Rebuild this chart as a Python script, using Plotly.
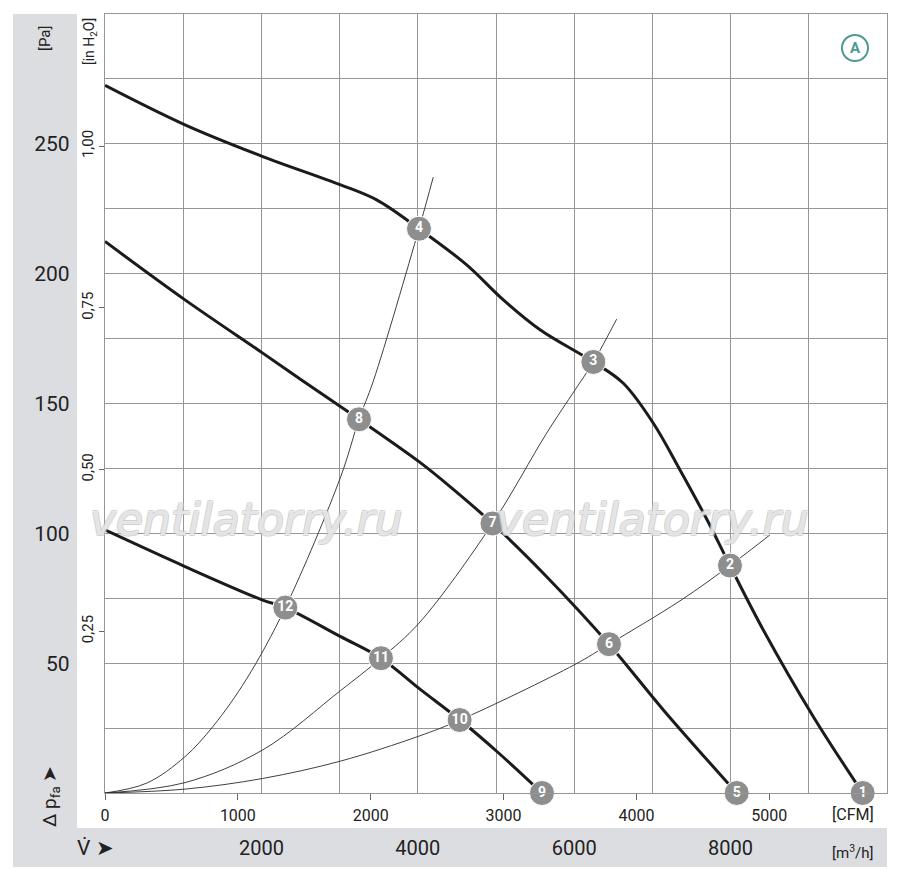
import plotly.graph_objects as go

# ---------------- data (flow in m3/h, pressure in Pa) ----------------
curve1_x = [0, 1023, 2017, 3014, 3474, 4015, 4625, 5094, 5563, 6245, 6628, 7012, 7353, 7694, 7992, 8418, 9058, 9689]
curve1_y = [272.5, 257.3, 245.1, 234.2, 228.4, 217.3, 203.4, 189.9, 178.4, 166.0, 157.8, 142.4, 124.4, 105.5, 87.6, 62.8, 29.4, 0]

curve2_x = [0, 1023, 2017, 2536, 3248, 4015, 4412, 4955, 5648, 6445, 7140, 8078]
curve2_y = [212.4, 189.9, 169.4, 158.6, 143.9, 127.6, 118.0, 103.8, 83.3, 57.3, 32.0, 0]

curve3_x = [0, 1023, 2017, 2306, 3014, 3529, 4015, 4540, 5030, 5588]
curve3_y = [101.3, 87.2, 74.3, 71.4, 60.2, 51.9, 40.3, 28.1, 15.5, 0]

sys1_x = [0, 533, 1023, 1385, 1812, 2306, 3014, 3248, 3431, 4015, 4198]
sys1_y = [0, 3.8, 14.0, 25.8, 44.0, 71.4, 121.8, 143.9, 158.6, 217.3, 237.2]

sys2_x = [0, 1023, 2017, 3014, 3529, 4015, 4955, 5648, 6010, 6245, 6543]
sys2_y = [0, 4.0, 16.6, 39.5, 51.9, 65.4, 103.8, 138.6, 155.2, 166.0, 182.5]

sys3_x = [0, 1023, 2017, 3014, 4015, 4540, 6010, 6445, 7353, 7992, 8504]
sys3_y = [0, 1.5, 5.6, 12.3, 21.9, 28.1, 49.5, 57.3, 74.0, 87.6, 99.4]

point_labels = ["1", "2", "3", "4", "5", "6", "7", "8", "9", "10", "11", "12"]
point_x = [9689, 7992, 6245, 4015, 8078, 6445, 4955, 3248, 5588, 4535, 3529, 2306]
point_y = [0, 87.6, 166.0, 217.3, 0, 57.3, 103.8, 143.9, 0, 28.1, 51.9, 71.4]

m3h_ticks = [0, 1000, 2000, 3000, 4000, 5000, 6000, 7000, 8000, 9000, 10000]
m3h_labels = ["", "", "2000", "", "4000", "", "6000", "", "8000", "", ""]
cfm_ticks = [0, 1000, 2000, 3000, 4000, 5000]
cfm_labels = ["0", "1000", "2000", "3000", "4000", "5000"]
pa_ticks = [0, 25, 50, 75, 100, 125, 150, 175, 200, 225, 250, 275, 300]
pa_labels = ["", "", "50", "", "100", "", "150", "", "200", "", "250", "", ""]
inh2o_ticks = [0.25, 0.50, 0.75, 1.00]
inh2o_labels = ["0,25", "0,50", "0,75", "1,00"]

M3H_PER_CFM = 1.699
PA_PER_INH2O = 249.089
X_MAX = 10000
Y_MAX = 300

FONT = "Roboto, Liberation Sans, Arial, sans-serif"
GRID = "#969696"
STRIP = "#dcdde0"
INK = "#222222"

fig = go.Figure()

for xs, ys in [(sys1_x, sys1_y), (sys2_x, sys2_y), (sys3_x, sys3_y)]:
    fig.add_trace(go.Scatter(x=xs, y=ys, mode="lines",
                             line=dict(color="#2a2a2a", width=0.9, shape="spline"),
                             hoverinfo="skip", showlegend=False))

for xs, ys in [(curve1_x, curve1_y), (curve2_x, curve2_y), (curve3_x, curve3_y)]:
    fig.add_trace(go.Scatter(x=xs, y=ys, mode="lines",
                             line=dict(color="#1b1b1b", width=3, shape="spline"),
                             hoverinfo="skip", showlegend=False))

fig.add_trace(go.Scatter(x=point_x, y=point_y, mode="markers+text", text=point_labels,
                         textposition="middle center",
                         textfont=dict(family=FONT, size=14, color="white", weight="bold"),
                         marker=dict(size=25, color="#8e8e8e", line=dict(color="white", width=1)),
                         cliponaxis=False, hoverinfo="skip", showlegend=False))

# invisible traces so that the secondary axes exist
fig.add_trace(go.Scatter(x=[0], y=[0], xaxis="x2", yaxis="y", mode="markers",
                         marker=dict(opacity=0), hoverinfo="skip", showlegend=False))
fig.add_trace(go.Scatter(x=[0], y=[0], xaxis="x", yaxis="y2", mode="markers",
                         marker=dict(opacity=0), hoverinfo="skip", showlegend=False))

# page pixel -> paper coordinates (plot area spans page x 105..887, y 14..793)
def px_to_paper_x(px):
    return (px - 105) / 782.0

def px_to_paper_y(py):
    return (793 - py) / 779.0

shapes = [
    dict(type="rect", xref="paper", yref="paper", layer="below",
         x0=px_to_paper_x(13), x1=px_to_paper_x(77), y0=px_to_paper_y(867), y1=px_to_paper_y(14),
         fillcolor=STRIP, line=dict(width=0)),
    dict(type="rect", xref="paper", yref="paper", layer="below",
         x0=px_to_paper_x(13), x1=px_to_paper_x(887), y0=px_to_paper_y(867), y1=px_to_paper_y(828),
         fillcolor=STRIP, line=dict(width=0)),
    dict(type="circle", xref="paper", yref="paper",
         x0=px_to_paper_x(842), x1=px_to_paper_x(868), y0=px_to_paper_y(61), y1=px_to_paper_y(35),
         line=dict(color="#4c9a92", width=2)),
]

def label(text, px, py, size, angle=0, color=INK, **font_extra):
    return dict(text=text, xref="paper", yref="paper", x=px_to_paper_x(px), y=px_to_paper_y(py),
                xanchor="center", yanchor="middle", textangle=angle, showarrow=False,
                font=dict(family=FONT, size=size, color=color, **font_extra))

outline = "1px 1px 0 #c4c4c4, -1px -1px 0 #c4c4c4, 1px -1px 0 #c4c4c4, -1px 1px 0 #c4c4c4"
wm_font = dict(family="DejaVu Sans", size=44, color="rgba(255,255,255,0.55)", style="italic", shadow=outline)

annotations = [
    label("A", 855, 48, 15, color="#4c9a92", weight="bold"),
    label("[Pa]", 45, 38, 15, angle=-90),
    label("[in H<sub>2</sub>O]", 90, 42, 14, angle=-90),
    label("Δ p<sub>fa</sub> ➤", 50, 797, 19, angle=-90),
    label("V ➤", 95, 848, 21),
    label("˙", 84, 845, 21),
    label("[CFM]", 853, 815, 16),
    label("[m<sup>3</sup>/h]", 852, 852, 15),
    dict(text="ventilatorry.ru", xref="paper", yref="paper", x=px_to_paper_x(246), y=px_to_paper_y(519),
         xanchor="center", yanchor="middle", showarrow=False, font=wm_font),
    dict(text="ventilatorry.ru", xref="paper", yref="paper", x=px_to_paper_x(652), y=px_to_paper_y(519),
         xanchor="center", yanchor="middle", showarrow=False, font=wm_font),
]

# figure is drawn 8px smaller than the window to allow for the page's default body margin
fig.update_layout(
    width=892, height=872,
    margin=dict(l=97, r=13, t=6, b=87, autoexpand=False),
    paper_bgcolor="white", plot_bgcolor="white",
    showlegend=False,
    font=dict(family=FONT, color=INK),
    shapes=shapes, annotations=annotations,
    xaxis=dict(range=[0, X_MAX], tickvals=m3h_ticks, ticktext=m3h_labels, ticks="",
               showgrid=True, gridcolor=GRID, gridwidth=1.3, zeroline=False,
               showline=True, mirror=True, linecolor=GRID, linewidth=1.3, automargin=False,
               ticklabelstandoff=37, tickfont=dict(family=FONT, size=20, color=INK)),
    xaxis2=dict(range=[0, X_MAX / M3H_PER_CFM], overlaying="x", side="bottom", anchor="y",
                tickvals=cfm_ticks, ticktext=cfm_labels, ticks="outside", ticklen=6,
                tickcolor="#666", tickwidth=1, showgrid=False, zeroline=False, showline=False,
                automargin=False, ticklabelstandoff=2, tickfont=dict(family=FONT, size=16, color=INK)),
    yaxis=dict(range=[0, Y_MAX], tickvals=pa_ticks, ticktext=pa_labels, ticks="",
               showgrid=True, gridcolor=GRID, gridwidth=1.3, zeroline=False,
               showline=True, mirror=True, linecolor=GRID, linewidth=1.3, automargin=False,
               ticklabelstandoff=30, tickfont=dict(family=FONT, size=21, color=INK)),
    yaxis2=dict(range=[0, Y_MAX / PA_PER_INH2O], overlaying="y", side="left", anchor="x",
                tickvals=inh2o_ticks, ticktext=inh2o_labels, ticks="outside", ticklen=5,
                tickcolor="#666", tickwidth=1, tickangle=-90, showgrid=False, zeroline=False,
                showline=False, automargin=False, tickfont=dict(family=FONT, size=15, color=INK)),
)

fig.write_html("out.html")
